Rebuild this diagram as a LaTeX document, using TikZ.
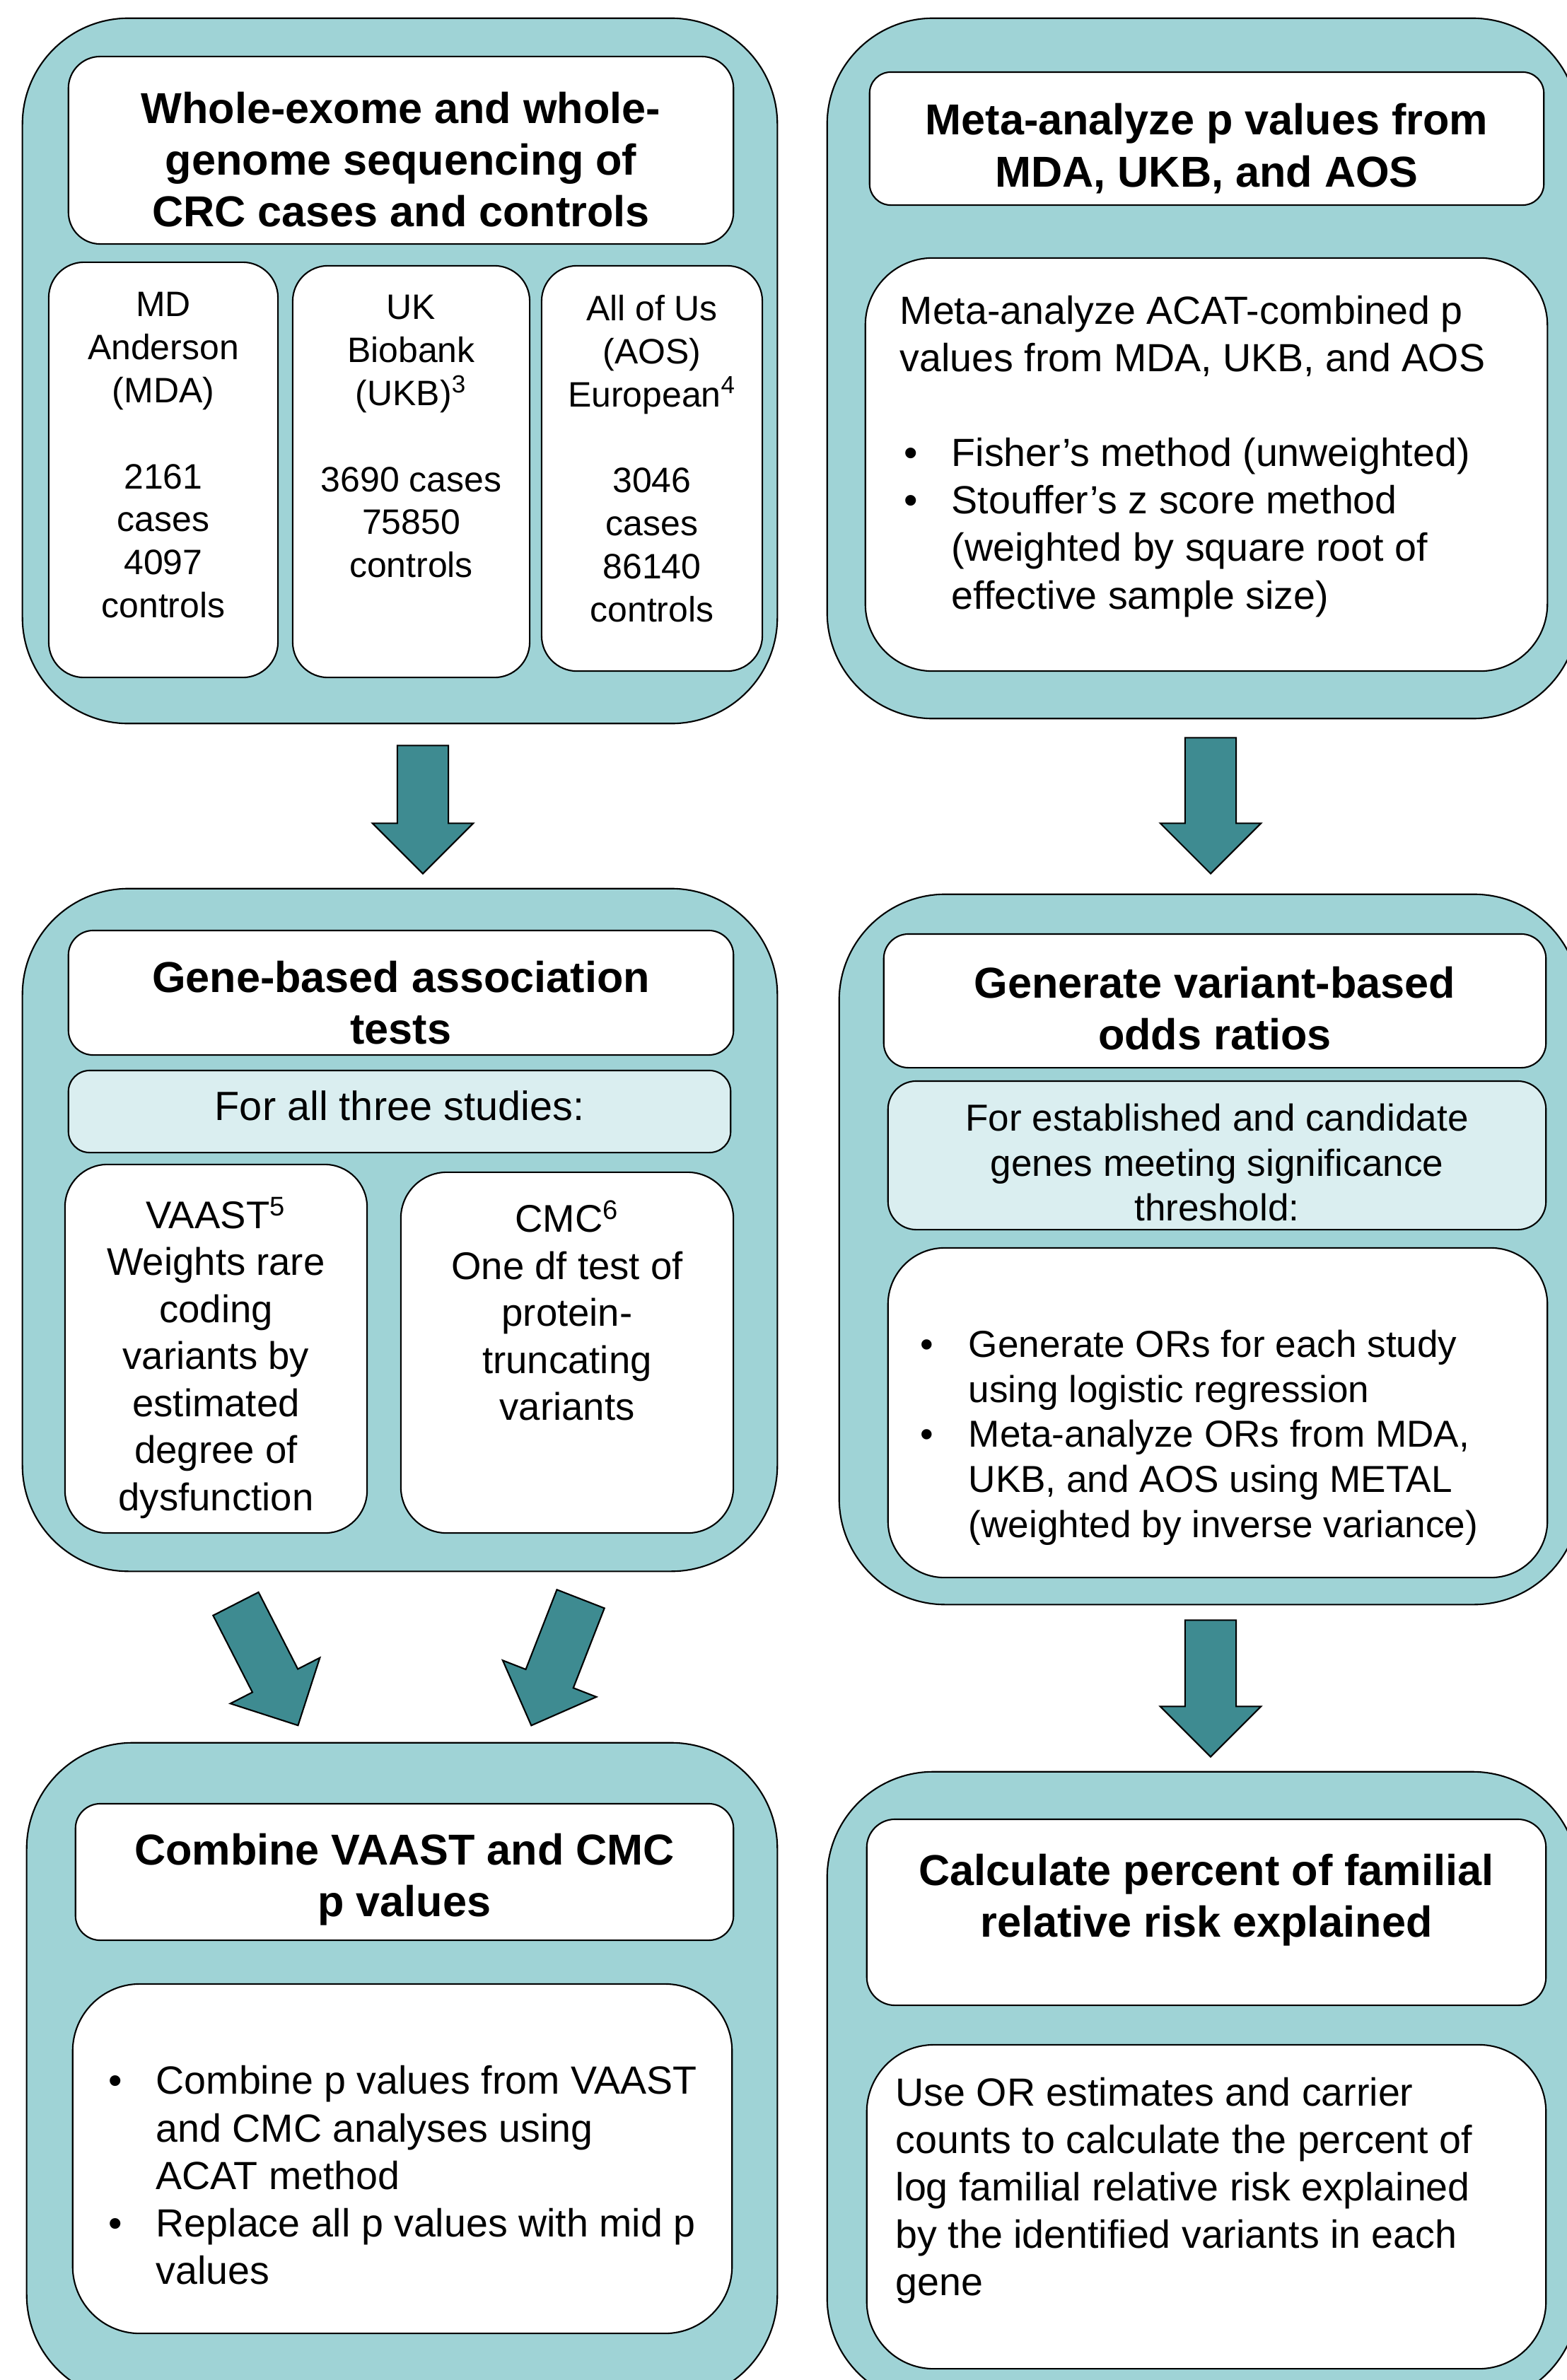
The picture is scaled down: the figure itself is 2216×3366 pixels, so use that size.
\documentclass[tikz,border=0pt]{standalone}
\usepackage{fontspec}
\setmainfont{Liberation Sans}
\usepackage{tikz}
\usetikzlibrary{shapes.arrows,positioning,calc}
\definecolor{panelteal}{RGB}{159,211,214}
\definecolor{palecyan}{RGB}{218,238,240}
\definecolor{arrowteal}{RGB}{62,139,145}
\newcommand{\titlefont}{\fontsize{17.4}{20.8}\selectfont\bfseries}
\newcommand{\studyfont}{\fontsize{14.2}{17.3}\selectfont}
\newcommand{\bodyfont}{\fontsize{15.8}{19.1}\selectfont}
\newcommand{\testfont}{\fontsize{15.5}{18.9}\selectfont}
\newcommand{\orfont}{\fontsize{15.1}{18.1}\selectfont}

\begin{document}
\begin{tikzpicture}[x=0.01cm, y=-0.01cm, line width=0.6pt,
panelbox/.style={rectangle,draw,fill=panelteal,rounded corners=1.5cm,inner sep=0pt},
whitebox/.style={rectangle,draw,fill=white,inner sep=0pt,align=center},
palebox/.style={whitebox,fill=palecyan,rounded corners=.3cm},
txt/.style={inner sep=0pt,align=center},
headtxt/.style={txt,font=\titlefont},
bigarrow/.style={single arrow,draw,fill=arrowteal,inner xsep=0pt,inner ysep=.35cm,
  single arrow head extend=.35cm,single arrow tip angle=90,single arrow head indent=0pt,anchor=tail}
]
\useasboundingbox (0,0) rectangle (2216,3366);

% sequencing
\node[panelbox, minimum width=10.67cm, minimum height=9.97cm] (pA) at (565.5,524.5) {};
\node[whitebox, rounded corners=.45cm, minimum width=9.40cm, minimum height=2.65cm] (tA) at (567,212.5) {};
\node[headtxt] (tA-t) at ($(tA.center)+(0,13)$)
  {Whole-exome and whole-\\genome sequencing of\\CRC cases and controls};
\node[whitebox, rounded corners=.5cm, minimum width=3.24cm, minimum height=5.87cm] (sMDA) at (231,664.5) {};
\node[whitebox, rounded corners=.5cm, minimum width=3.35cm, minimum height=5.82cm] (sUKB) at (581.5,667) {};
\node[whitebox, rounded corners=.5cm, minimum width=3.12cm, minimum height=5.73cm] (sAOS) at (922,662.5) {};
\node[txt, font=\studyfont, below=.425cm of sMDA.north] (sMDA-t)
  {MD\\Anderson\\(MDA)\\[\baselineskip]2161\\cases\\4097\\controls};
\node[txt, font=\studyfont, below=.415cm of sUKB.north] (sUKB-t)
  {UK\\Biobank\\(UKB)\textsuperscript{3}\\[\baselineskip]3690 cases\\75850\\controls};
\node[txt, font=\studyfont, below=.415cm of sAOS.north] (sAOS-t)
  {All of Us\\(AOS)\\European\textsuperscript{4}\\[\baselineskip]3046\\cases\\86140\\controls};

% meta-analysis of p values
\node[panelbox, minimum width=10.62cm, minimum height=9.90cm] (pB) at (1701,521) {};
\node[whitebox, rounded corners=.3cm, minimum width=9.53cm, minimum height=1.88cm] (tB) at (1706.5,196) {};
\node[headtxt] (tB-t) at ($(tB.center)+(0,14)$) {Meta-analyze p values from\\MDA, UKB, and AOS};
\node[whitebox, rounded corners=.95cm, minimum width=9.64cm, minimum height=5.84cm] (bB) at (1706,657) {};
\node[txt, align=left, font=\bodyfont, below right=.53cm and .49cm of bB.north west] (bB-t)
  {Meta-analyze ACAT-combined p\\values from MDA, UKB, and AOS\\[\baselineskip]%
   \begin{tabular}[t]{@{}p{.73cm}@{}l@{}}
   \hspace{.06cm}• & Fisher's method (unweighted)\\
   \hspace{.06cm}• & Stouffer's z score method\\
    & (weighted by square root of\\
    & effective sample size)
   \end{tabular}};

% gene-based tests
\node[panelbox, minimum width=10.67cm, minimum height=9.65cm] (pC) at (565.5,1739.5) {};
\node[whitebox, rounded corners=.35cm, minimum width=9.40cm, minimum height=1.76cm] (tC) at (567,1404) {};
\node[headtxt] (tC-t) at ($(tC.center)+(0,14)$) {Gene-based association\\tests};
\node[palebox, minimum width=9.36cm, minimum height=1.16cm] (lC) at (565,1572) {};
\node[txt, font=\fontsize{16.4}{19.7}\selectfont] (lC-t) at ($(lC.center)+(0,-8)$) {For all three studies:};
\node[whitebox, rounded corners=.6cm, minimum width=4.27cm, minimum height=5.21cm] (mVAAST) at (305.5,1907.5) {};
\node[txt, font=\testfont, below=.46cm of mVAAST.north] (mVAAST-t)
  {VAAST\textsuperscript{5}\\Weights rare\\coding\\variants by\\estimated\\degree of\\dysfunction};
\node[whitebox, rounded corners=.65cm, minimum width=4.70cm, minimum height=5.10cm] (mCMC) at (802,1913) {};
\node[txt, font=\testfont, below=.40cm of mCMC.north] (mCMC-t)
  {CMC\textsuperscript{6}\\One df test of\\protein-\\truncating\\variants};

% odds ratios
\node[panelbox, minimum width=10.47cm, minimum height=10.04cm] (pD) at (1710.5,1767) {};
\node[whitebox, rounded corners=.35cm, minimum width=9.36cm, minimum height=1.89cm] (tD) at (1718,1415.5) {};
\node[headtxt] (tD-t) at ($(tD.center)+(0,11)$) {Generate variant-based\\odds ratios};
\node[palebox, rounded corners=.4cm, minimum width=9.30cm, minimum height=2.10cm] (lD) at (1721,1634) {};
\node[txt, font=\orfont] (lD-t) at ($(lD.center)+(0,10)$)
  {For established and candidate\\genes meeting significance\\threshold:};
\node[whitebox, rounded corners=.8cm, minimum width=9.32cm, minimum height=4.66cm] (bD) at (1722,1998) {};
\node[txt, align=left, font=\orfont, below right=1.10cm and .46cm of bD.north west] (bD-t)
  {\begin{tabular}[t]{@{}p{.68cm}@{}l@{}}
   • & Generate ORs for each study\\
    & using logistic regression\\
   • & Meta-analyze ORs from MDA,\\
    & UKB, and AOS using METAL\\
    & (weighted by inverse variance)
   \end{tabular}};

% combine p values
\node[panelbox, minimum width=10.61cm, minimum height=9.30cm] (pE) at (568.5,2930) {};
\node[whitebox, rounded corners=.35cm, minimum width=9.30cm, minimum height=1.93cm] (tE) at (572,2647.5) {};
\node[headtxt] (tE-t) at ($(tE.center)+(0,11)$) {Combine VAAST and CMC\\p values};
\node[whitebox, rounded corners=.95cm, minimum width=9.32cm, minimum height=4.94cm] (bE) at (569,3053) {};
\node[txt, align=left, font=\bodyfont, below right=1.09cm and .51cm of bE.north west] (bE-t)
  {\begin{tabular}[t]{@{}p{.67cm}@{}l@{}}
   • & Combine p values from VAAST\\
    & and CMC analyses using\\
    & ACAT method\\
   • & Replace all p values with mid p\\
    & values
   \end{tabular}};

% familial relative risk
\node[panelbox, minimum width=10.62cm, minimum height=8.94cm] (pF) at (1701,2953) {};
\node[whitebox, rounded corners=.4cm, minimum width=9.60cm, minimum height=2.63cm] (tF) at (1706,2704.5) {};
\node[headtxt, below=.49cm of tF.north] (tF-t) {Calculate percent of familial\\relative risk explained};
\node[whitebox, rounded corners=.95cm, minimum width=9.60cm, minimum height=4.58cm] (bF) at (1706,3121) {};
\node[txt, align=left, font=\bodyfont, below right=.46cm and .41cm of bF.north west] (bF-t)
  {Use OR estimates and carrier\\counts to calculate the percent of\\log familial relative risk explained\\by the identified variants in each\\gene};

% arrows between the steps
\node[bigarrow, minimum height=1.81cm, rotate=-90] (aAC) at ($(pA.south)+(32.5,29)$) {};
\node[bigarrow, minimum height=1.92cm, rotate=-90] (aBD) at ($(pB.south)+(11,25)$) {};
\node[bigarrow, minimum height=1.93cm, rotate=-90] (aDF) at ($(pD.south)+(1.5,20)$) {};
\node[bigarrow, minimum height=1.93cm, rotate=-62.9] (aCE1) at ($(pC.south)+(-232.5,44)$) {};
\node[bigarrow, minimum height=1.92cm, rotate=-111.3] (aCE2) at ($(pC.south)+(256,37)$) {};
\end{tikzpicture}
\end{document}
